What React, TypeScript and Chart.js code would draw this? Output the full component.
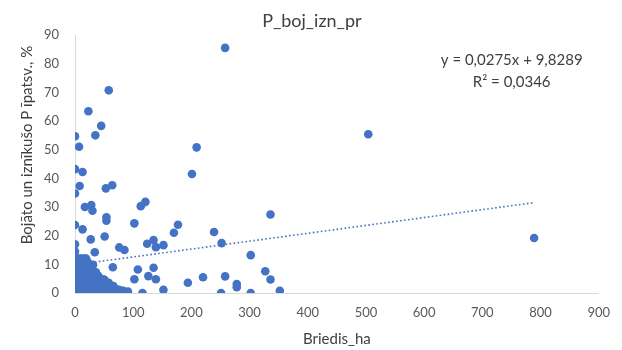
import { useEffect, useRef } from "react";
import { Chart, registerables } from "chart.js";

Chart.register(...registerables);

const chartTitle = "P_boj_izn_pr";
const xAxisTitle = "Briedis_ha";
const yAxisTitle = "Bojāto un iznīkušo P īpatsv., %";
const equationLines = ["y = 0,0275x + 9,8289", "R² = 0,0346"];
const trendSlope = 0.0275;
const trendIntercept = 9.8289;
const trendXRange = [0, 789];
const xAxisRange = [0, 900, 100];
const yAxisRange = [0, 90, 10];

// [Briedis_ha, P_boj_izn_pr %] – scattered points
const scatteredPoints: [number, number][] = [
  [258, 85.5], [58, 70.7], [23, 63.4], [45, 58.3], [0, 54.7], [35, 55], [7, 51],
  [209, 50.8], [504, 55.4], [0, 43.2], [13, 42.2], [201, 41.5], [8, 37.3], [0, 34.7],
  [53, 36.5], [64, 37.6], [17, 30], [28, 30.7], [30, 28.7], [113, 30.3], [121, 31.8],
  [54, 26.4], [54, 25.2], [0, 23.7], [13, 22.2], [102, 24.3], [27, 18.7], [51, 19.7],
  [0, 17], [0, 14.5], [34, 14.2], [76, 15.9], [85, 15], [124, 17.2], [135, 18.5],
  [139, 16], [152, 16.7], [170, 21], [177, 23.8], [239, 21.3], [252, 17.4], [302, 13.2],
  [336, 27.4], [789, 19.2], [65, 9], [108, 8.2], [135, 8.8], [126, 5.9], [139, 4.8],
  [102, 4.8], [51, 4.4], [116, 0], [152, 1.1], [194, 3.6], [220, 5.5], [258, 5.8],
  [278, 3.1], [278, 2], [251, 0], [302, 0], [327, 7.6], [336, 4.7], [352, 0.8],
  [83, 0.8], [91, 0.5], [65, 0.5], [77, 1], [31, 9.8],
];

// dense group of small farms near the origin
const clusterPoints: [number, number][] = [
  [0, 0], [4, 0], [8, 0], [12, 0], [16, 0], [20, 0], [25, 0], [30, 0], [35, 0], [40, 0],
  [46, 0], [52, 0], [58, 0], [64, 0], [70, 0], [76, 0],
  [2, 1.2], [6, 1.2], [10, 1.2], [14, 1.2], [18, 1.2], [23, 1.2], [28, 1.2], [33, 1.2],
  [38, 1.2], [43, 1.2], [49, 1.2], [55, 1.2], [61, 1.2], [67, 1.2], [73, 1.2],
  [0, 2.4], [4, 2.4], [8, 2.4], [12, 2.4], [16, 2.4], [20, 2.4], [25, 2.4], [30, 2.4],
  [35, 2.4], [41, 2.4], [47, 2.4], [53, 2.4], [60, 2.4], [66, 2.4],
  [2, 3.6], [6, 3.6], [10, 3.6], [14, 3.6], [18, 3.6], [23, 3.6], [28, 3.6], [33, 3.6],
  [39, 3.6], [45, 3.6], [51, 3.6], [58, 3.6],
  [0, 4.8], [4, 4.8], [8, 4.8], [12, 4.8], [16, 4.8], [20, 4.8], [25, 4.8], [30, 4.8],
  [36, 4.8], [42, 4.8], [49, 4.8],
  [2, 6], [6, 6], [10, 6], [14, 6], [18, 6], [23, 6], [28, 6], [34, 6], [40, 6],
  [0, 7.2], [4, 7.2], [8, 7.2], [12, 7.2], [16, 7.2], [20, 7.2], [25, 7.2], [31, 7.2], [36, 7.2],
  [2, 8.4], [6, 8.4], [10, 8.4], [14, 8.4], [18, 8.4], [23, 8.4], [28, 8.4],
  [0, 9.6], [4, 9.6], [8, 9.6], [12, 9.6], [16, 9.6], [20, 9.6], [25, 9.6],
  [2, 10.8], [6, 10.8], [10, 10.8], [14, 10.8], [18, 10.8], [22, 10.8],
  [0, 12], [4, 12], [8, 12], [12, 12], [16, 12], [19, 12],
];

const FONT = "Lato, 'Open Sans', sans-serif";

const textPlugin = {
  id: "excelTexts",
  afterDraw(chart: any) {
    const { ctx, chartArea } = chart;
    const cx = (chartArea.left + chartArea.right) / 2;
    ctx.save();
    ctx.fillStyle = "#404040";
    ctx.textAlign = "center";
    ctx.textBaseline = "middle";
    ctx.font = `18px ${FONT}`;
    ctx.fillText(chartTitle, cx - 25, chartArea.top - 14);
    ctx.font = `15px ${FONT}`;
    ctx.fillText(equationLines[0], chartArea.right - 87, chartArea.top + 25);
    ctx.fillText(equationLines[1], chartArea.right - 87, chartArea.top + 47);
    ctx.font = `15px ${FONT}`;
    ctx.fillText(xAxisTitle, cx, chartArea.bottom + 46);
    ctx.translate(chartArea.left - 48, (chartArea.top + chartArea.bottom) / 2 - 19);
    ctx.rotate(-Math.PI / 2);
    ctx.fillText(yAxisTitle, 0, 0);
    ctx.restore();
  },
};

export default function App() {
  const canvasRef = useRef<HTMLCanvasElement | null>(null);

  useEffect(() => {
    if (!canvasRef.current) return;
    const blue = "#4472C4";
    const toXY = (p: [number, number]) => ({ x: p[0], y: p[1] });
    const chart = new Chart(canvasRef.current, {
      type: "scatter",
      data: {
        datasets: [
          {
            type: "line",
            label: "Trend",
            data: trendXRange.map((x) => ({ x, y: trendIntercept + trendSlope * x })),
            borderColor: blue,
            borderWidth: 1.6,
            borderDash: [1.6, 2.4],
            pointRadius: 0,
            fill: false,
          } as any,
          {
            label: chartTitle,
            data: [...clusterPoints, ...scatteredPoints].map(toXY),
            backgroundColor: blue,
            borderColor: blue,
            borderWidth: 0,
            pointRadius: 4.3,
          },
        ],
      },
      options: {
        responsive: false,
        animation: false,
        layout: { padding: { top: 35, right: 18, left: 0, bottom: 0 } },
        plugins: {
          legend: { display: false },
          title: { display: false },
          tooltip: { enabled: false },
        },
        scales: {
          x: {
            type: "linear",
            min: xAxisRange[0],
            max: xAxisRange[1],
            grid: { display: false, drawTicks: false },
            border: { display: true, color: "#d9d9d9", width: 1 },
            ticks: {
              stepSize: xAxisRange[2],
              padding: 12,
              color: "#595959",
              font: { family: FONT, size: 13 },
              maxRotation: 0,
            },
            afterFit: (scale: any) => {
              scale.height = 57;
            },
          },
          y: {
            type: "linear",
            min: yAxisRange[0],
            max: yAxisRange[1],
            grid: { display: false, drawTicks: false },
            border: { display: true, color: "#d9d9d9", width: 1 },
            ticks: {
              stepSize: yAxisRange[2],
              padding: 16,
              color: "#595959",
              font: { family: FONT, size: 13 },
            },
            afterFit: (scale: any) => {
              scale.width = 75;
            },
          },
        },
      },
      plugins: [textPlugin],
    });
    return () => chart.destroy();
  }, []);

  return (
    <div style={{ position: "absolute", left: 0, top: 0, width: 622, height: 350, background: "#fff" }}>
      <canvas ref={canvasRef} width={622} height={350} />
    </div>
  );
}
